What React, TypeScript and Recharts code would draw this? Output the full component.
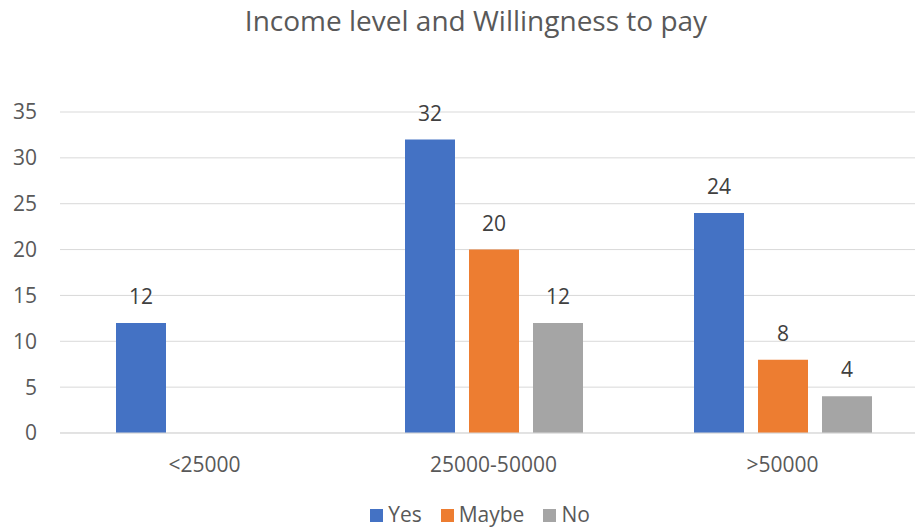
import React from 'react';
import { BarChart, Bar, XAxis, YAxis, CartesianGrid, LabelList, Legend } from 'recharts';

const categories = ['<25000', '25000-50000', '>50000'];
const yesValues: (number | null)[] = [12, 32, 24];
const maybeValues: (number | null)[] = [null, 20, 8];
const noValues: (number | null)[] = [null, 12, 4];
const yTicks = [0, 5, 10, 15, 20, 25, 30, 35];
const seriesNames = ['Yes', 'Maybe', 'No'];
const seriesColors = ['#4472C4', '#ED7D31', '#A5A5A5'];
const titleText = 'Income level and Willingness to pay';

const data = categories.map((c, i) => ({
  category: c,
  Yes: yesValues[i],
  Maybe: maybeValues[i],
  No: noValues[i],
}));

const FONT = '"Open Sans", "Noto Sans", sans-serif';

const renderLabel = (props: any) => {
  const { x, y, width, value } = props;
  if (value === null || value === undefined) return null;
  return (
    <text
      x={x + width / 2}
      y={y - 19}
      textAnchor="middle"
      fill="#404040"
      fontSize={21}
      fontFamily={FONT}
    >
      {value}
    </text>
  );
};

const LegendContent = () => (
  <div
    style={{
      boxSizing: 'border-box',
      height: 30,
      paddingTop: 4,
      paddingBottom: 3,
      display: 'flex',
      justifyContent: 'center',
      alignItems: 'center',
      fontFamily: FONT,
      fontSize: 21,
      color: '#595959',
    }}
  >
    {seriesNames.map((n, i) => (
      <div key={n} style={{ display: 'flex', alignItems: 'center', marginLeft: i === 0 ? 0 : 19 }}>
        <div style={{ width: 13, height: 13, background: seriesColors[i], marginRight: 5, marginTop: 2 }} />
        <span style={{ lineHeight: '21px' }}>{n}</span>
      </div>
    ))}
  </div>
);

export default function App() {
  return (
    <div
      style={{
        position: 'fixed',
        left: 0,
        top: 0,
        width: 915,
        height: 529,
        overflow: 'hidden',
        background: '#fff',
      }}
    >
      <div
        style={{
          position: 'absolute',
          left: 0,
          top: 1,
          width: 952,
          textAlign: 'center',
          fontFamily: FONT,
          fontSize: 28,
          lineHeight: '38px',
          color: '#595959',
          whiteSpace: 'nowrap',
        }}
      >
        {titleText}
      </div>
      <div style={{ position: 'absolute', left: 0, top: 0 }}>
        <BarChart
          width={940}
          height={529}
          data={data}
          margin={{ top: 112, right: 13, bottom: 0, left: 0 }}
          barSize={50}
          barGap={14}
        >
          <CartesianGrid vertical={false} stroke="#D9D9D9" strokeWidth={1} />
          <XAxis
            dataKey="category"
            height={66}
            tickSize={0}
            tickMargin={24}
            axisLine={{ stroke: '#D9D9D9' }}
            tickLine={false}
            tick={{ fill: '#595959', fontSize: 21, fontFamily: FONT }}
            interval={0}
          />
          <YAxis
            width={60}
            domain={[0, 35]}
            ticks={yTicks}
            tickSize={0}
            tickMargin={23}
            axisLine={false}
            tickLine={false}
            tick={{ fill: '#595959', fontSize: 21, fontFamily: FONT }}
          />
          <Legend
            verticalAlign="bottom"
            align="center"
            content={LegendContent}
            wrapperStyle={{ left: 0, width: 960 }}
          />
          {seriesNames.map((n, i) => (
            <Bar key={n} dataKey={n} fill={seriesColors[i]} isAnimationActive={false}>
              <LabelList dataKey={n} content={renderLabel} />
            </Bar>
          ))}
        </BarChart>
      </div>
    </div>
  );
}
